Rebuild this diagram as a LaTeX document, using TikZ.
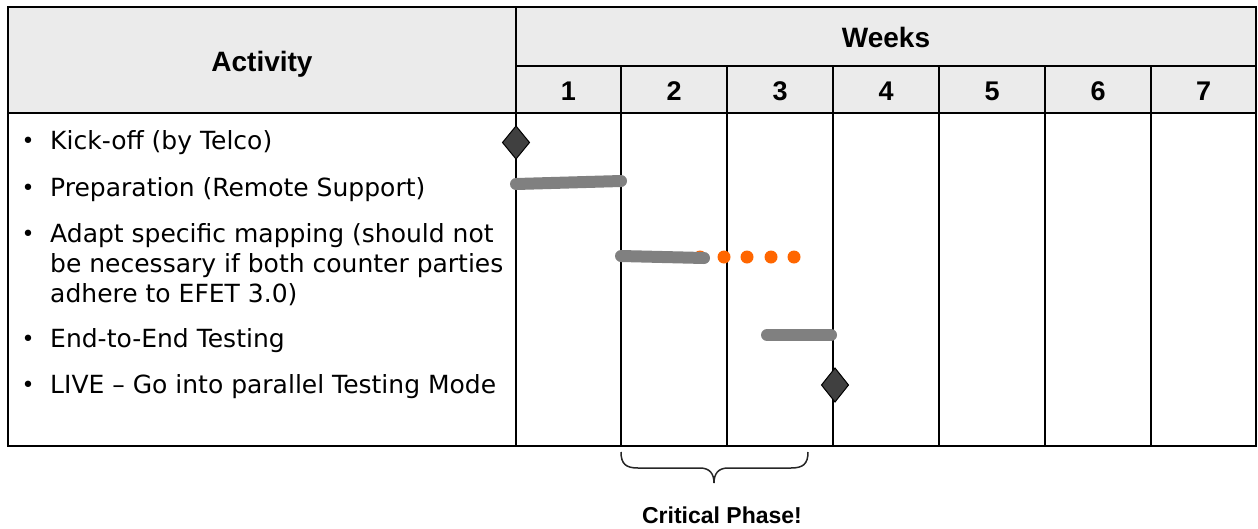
\documentclass[tikz,border=0pt]{standalone}
\usepackage{fontspec}
\setmainfont{DejaVu Sans}
\newfontfamily\headfont{Liberation Sans}
\definecolor{hdrgray}{HTML}{EBEBEB}
\definecolor{bargray}{HTML}{808080}
\definecolor{dotorange}{HTML}{FF6600}
\definecolor{msgray}{HTML}{404040}
\tikzset{
  gridline/.style={draw=black, line width=1.8pt},
  headtext/.style={font=\headfont\fontsize{28}{30}\selectfont\bfseries, inner sep=0pt, anchor=base},
  numtext/.style={font=\headfont\fontsize{27}{30}\selectfont\bfseries, inner sep=0pt, anchor=base},
  bodytext/.style={font=\fontsize{25}{30}\selectfont, inner sep=0pt, anchor=base west, align=left},
  bullettext/.style={font=\fontsize{22}{24}\selectfont, inner sep=0pt, anchor=base},
  taskbar/.style={draw=bargray, line width=12pt, line cap=round},
  orangedot/.style={fill=dotorange, draw=none},
  milestone/.style={fill=msgray, draw=black, line width=1pt, line join=miter},
  bracestyle/.style={draw=black!85, line width=1.5pt},
  notetext/.style={font=\headfont\fontsize{23}{26}\selectfont\bfseries, inner sep=0pt, anchor=base}
}
\begin{document}
\begin{tikzpicture}[x=1pt,y=-1pt]
\useasboundingbox (0,0) rectangle (1258,528);
% header fill
\fill[hdrgray] (8,7) rectangle (1256,113);
% outer border
\draw[gridline] (8,7) rectangle (1256,446);
% header separators
\draw[gridline] (516,7) -- (516,446);
\draw[gridline] (516,66) -- (1256,66);
\draw[draw=black, line width=2.6pt] (8,113) -- (1256,113);
\foreach \x in {621,727,833,939,1045,1151} {
  \draw[gridline] (\x,66) -- (\x,446);
}
% header texts
\node[headtext] (activity) at (262,71) {Activity};
\node[headtext] (weeks) at (886,47) {Weeks};
\foreach \i/\x in {1/568.5,2/674,3/780,4/886,5/992,6/1098,7/1203.5} {
  \node[numtext] (w\i) at (\x,100) {\i};
}
% activity texts
\foreach \n/\y in {b1/149,b2/196,b3/242,b4/347,b5/393} {
  \node[bullettext] (\n) at (28,\y-1) {•};
}
\node[bodytext] (t1) at (50,149) {Kick-off (by Telco)};
\node[bodytext] (t2) at (50,196) {Preparation (Remote Support)};
\node[bodytext] (t3a) at (50,242) {Adapt specific mapping (should not};
\node[bodytext] (t3b) at (50,272) {be necessary if both counter parties};
\node[bodytext] (t3c) at (50,302) {adhere to EFET 3.0)};
\node[bodytext] (t4) at (50,347) {End-to-End Testing};
\node[bodytext] (t5) at (50,393) {LIVE -- Go into parallel Testing Mode};
% bars
\draw[taskbar] (516,184) -- (621,181);
\fill[orangedot] (700,257) circle (6.5);
\draw[taskbar] (621,256) -- (704,258);
\foreach \x in {724,747,771,794} {
  \fill[orangedot] (\x,257) circle (6.5);
}
\draw[taskbar] (767,335) -- (831,335);
% milestones
\draw[milestone] (516,126) -- (529.5,142.5) -- (516,159) -- (502.5,142.5) -- cycle;
\draw[milestone] (835,368) -- (848.5,385) -- (835,402) -- (821.5,385) -- cycle;
% brace
\draw[bracestyle] (621,452) .. controls (621,464) and (626,468) .. (638,468) -- (700,468)
  .. controls (710,468) and (714,474) .. (714,483)
  .. controls (714,474) and (718,468) .. (728,468) -- (791,468)
  .. controls (803,468) and (808,464) .. (808,452);
\node[notetext] (crit) at (722,523) {Critical Phase!};
\end{tikzpicture}
\end{document}
